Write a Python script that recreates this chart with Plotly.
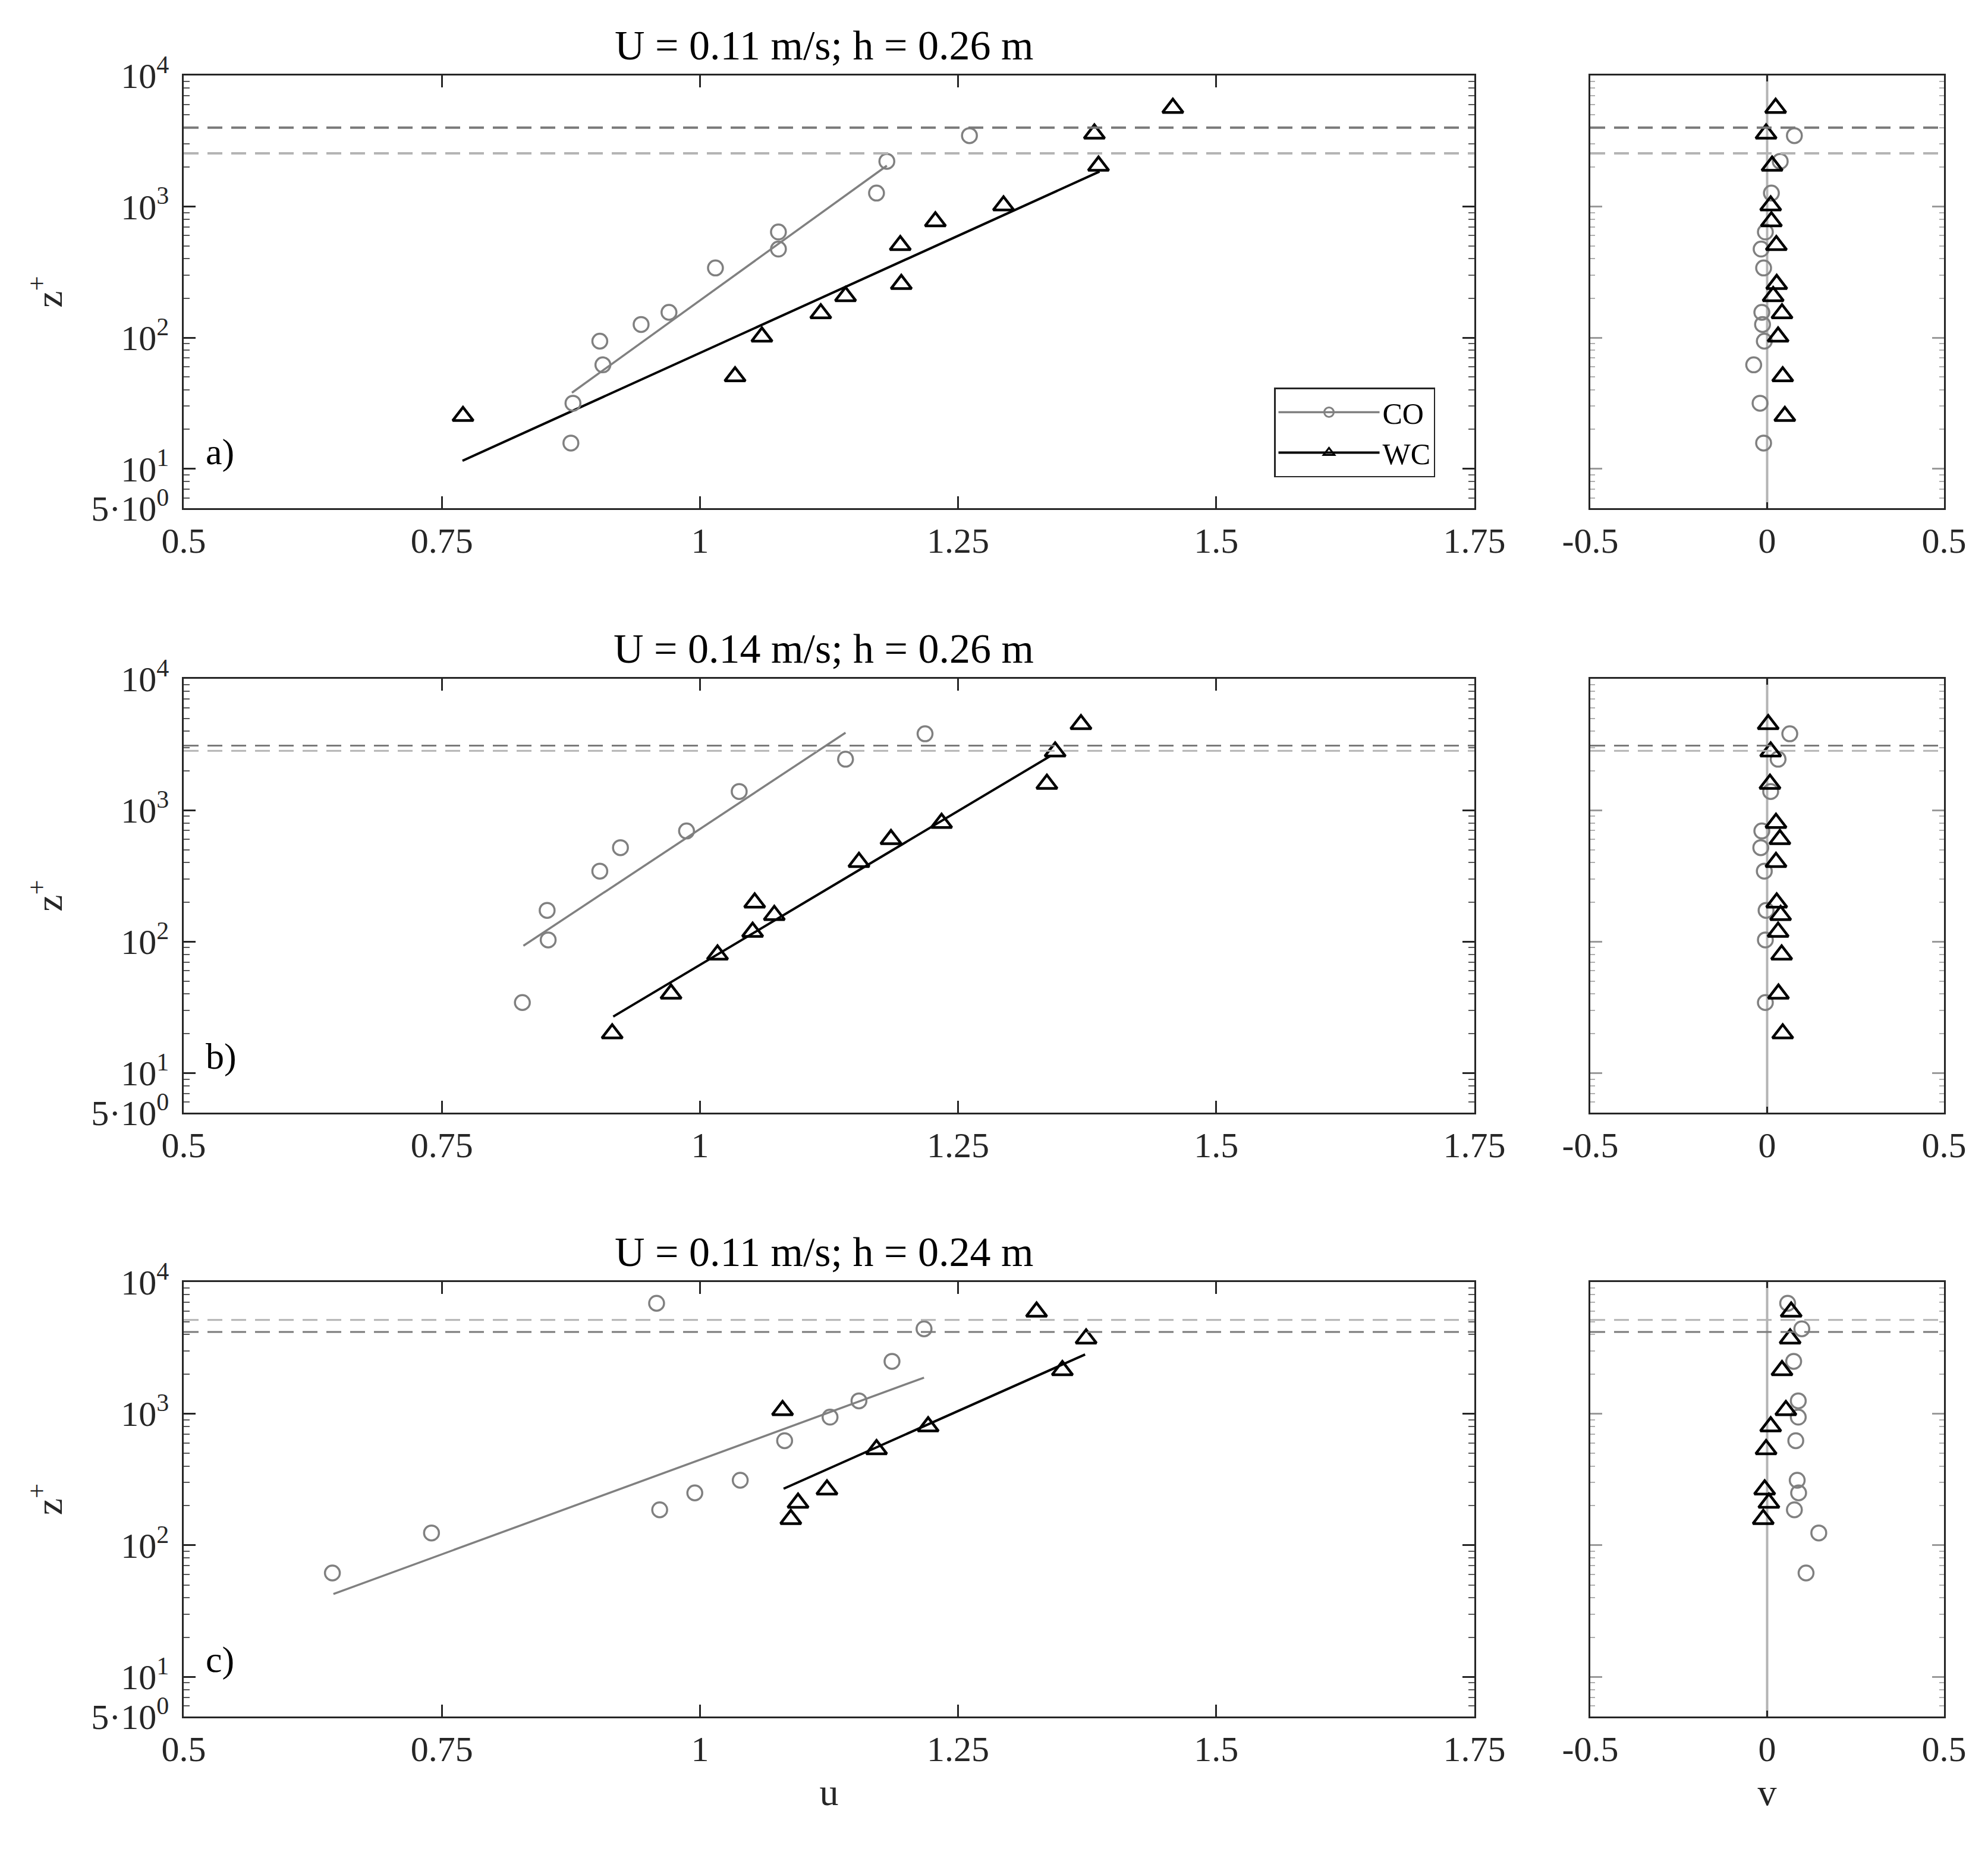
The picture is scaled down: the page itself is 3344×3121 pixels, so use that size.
import plotly.graph_objects as go

# text
titles = ["U = 0.11 m/s; h = 0.26 m", "U = 0.14 m/s; h = 0.26 m", "U = 0.11 m/s; h = 0.24 m"]
tags = ["a)", "b)", "c)"]

# panel a - CO (open circles) and WC (triangles)
a_co_z = [15.7, 31.6, 62, 94, 126, 156, 340, 474, 640, 1267, 2214, 3478]
a_co_u = [0.875, 0.877, 0.906, 0.903, 0.943, 0.970, 1.015, 1.076, 1.076, 1.171, 1.181, 1.261]
a_co_v = [-0.010, -0.020, -0.038, -0.008, -0.013, -0.015, -0.010, -0.017, -0.005, 0.012, 0.037, 0.077]
a_wc_z = [25.2, 50.6, 101.6, 153, 207, 256, 507, 770, 1018, 2044, 3594, 5650]
a_wc_u = [0.7705, 1.034, 1.060, 1.117, 1.141, 1.195, 1.194, 1.228, 1.294, 1.386, 1.382, 1.458]
a_wc_v = [0.050, 0.044, 0.031, 0.042, 0.017, 0.027, 0.026, 0.012, 0.010, 0.014, -0.003, 0.024]
a_co_fit_u = [0.876, 1.181]
a_co_fit_z = [38, 2050]
a_wc_fit_u = [0.770, 1.387]
a_wc_fit_z = [11.5, 1850]

# panel b
b_co_z = [34.4, 103, 173, 344, 519, 695, 1388, 2443, 3814]
b_co_u = [0.828, 0.853, 0.852, 0.903, 0.923, 0.987, 1.038, 1.141, 1.218]
b_co_v = [-0.005, -0.005, -0.003, -0.008, -0.018, -0.015, 0.010, 0.031, 0.064]
b_wc_z = [20, 40.1, 79.6, 118.6, 159, 198, 403, 601, 799, 1585, 2790, 4504]
b_wc_u = [0.915, 0.972, 1.017, 1.051, 1.072, 1.053, 1.154, 1.185, 1.234, 1.336, 1.344, 1.369]
b_wc_v = [0.044, 0.032, 0.041, 0.031, 0.038, 0.027, 0.025, 0.036, 0.025, 0.008, 0.010, 0.003]
b_co_fit_u = [0.829, 1.141]
b_co_fit_z = [93, 3890]
b_wc_fit_u = [0.916, 1.340]
b_wc_fit_z = [26.9, 2600]

# panel c
c_co_z = [61.6, 124, 186, 250, 312, 623, 941, 1251, 2497, 4411, 6898]
c_co_u = [0.644, 0.740, 0.961, 0.995, 1.039, 1.082, 1.126, 1.154, 1.186, 1.217, 0.958]
c_co_v = [0.110, 0.146, 0.077, 0.089, 0.085, 0.081, 0.088, 0.088, 0.075, 0.098, 0.058]
c_wc_z = [158, 210, 265, 536, 799, 1062, 2134, 3718, 5945]
c_wc_u = [1.088, 1.095, 1.123, 1.171, 1.221, 1.080, 1.351, 1.374, 1.326]
c_wc_v = [-0.011, 0.005, -0.007, -0.003, 0.010, 0.053, 0.042, 0.065, 0.068]
c_co_fit_u = [0.645, 1.217]
c_co_fit_z = [42.6, 1878]
c_wc_fit_u = [1.081, 1.373]
c_wc_fit_z = [269, 2817]

# dashed reference heights per panel
dash_dark_z = [4000, 3100, 4170]
dash_light_z = [2550, 2830, 5160]

# ticks
u_ticks = [0.5, 0.75, 1, 1.25, 1.5, 1.75]
u_ticktext = ["0.5", "0.75", "1", "1.25", "1.5", "1.75"]
v_ticks = [-0.5, 0, 0.5]
v_ticktext = ["-0.5", "0", "0.5"]
z_ticks = [5, 10, 100, 1000, 10000]
z_ticktext = ["5·10<sup>0</sup>", "10<sup>1</sup>", "10<sup>2</sup>", "10<sup>3</sup>", "10<sup>4</sup>"]

panels = [
    (a_co_z, a_co_u, a_co_v, a_wc_z, a_wc_u, a_wc_v, a_co_fit_u, a_co_fit_z, a_wc_fit_u, a_wc_fit_z),
    (b_co_z, b_co_u, b_co_v, b_wc_z, b_wc_u, b_wc_v, b_co_fit_u, b_co_fit_z, b_wc_fit_u, b_wc_fit_z),
    (c_co_z, c_co_u, c_co_v, c_wc_z, c_wc_u, c_wc_v, c_co_fit_u, c_co_fit_z, c_wc_fit_u, c_wc_fit_z),
]

W, H = 3344, 3121
FONT = "Liberation Serif"
AX = "#262626"
GRAY = "#808080"
LIGHT = "#b4b4b4"

# pixel boxes of the axes (x0, x1) and (top, bottom)
left_x = (301, 2472)
right_x = (2667, 3262)
rows_y = [(119, 847), (1134, 1864), (2149, 2880)]


def ax_id(n):
    # plotly names the first axis "x", not "x1"
    return "" if n == 1 else str(n)


def circ(name, x, y, xa, ya, legend=False):
    return go.Scatter(x=x, y=y, xaxis=xa, yaxis=ya, mode="markers", name=name, showlegend=legend,
                      marker=dict(symbol="circle-open", size=25, color=GRAY, line=dict(width=3.5, color=GRAY)))


def tri(name, x, y, xa, ya, legend=False):
    return go.Scatter(x=x, y=y, xaxis=xa, yaxis=ya, mode="markers", name=name, showlegend=legend,
                      marker=dict(symbol="triangle-up-open", size=30, color="black", line=dict(width=4.5, color="black")))


fig = go.Figure()
layout = {}
shapes = []

for i, p in enumerate(panels):
    co_z, co_u, co_v, wc_z, wc_u, wc_v, cfu, cfz, wfu, wfz = p
    sl, sr = ax_id(2 * i + 1), ax_id(2 * i + 2)
    xl, yl = "x" + sl, "y" + sl
    xr, yr = "x" + sr, "y" + sr

    # fit lines
    fig.add_trace(go.Scatter(x=cfu, y=cfz, xaxis=xl, yaxis=yl, mode="lines", showlegend=False,
                             line=dict(color=GRAY, width=3.5)))
    fig.add_trace(go.Scatter(x=wfu, y=wfz, xaxis=xl, yaxis=yl, mode="lines", showlegend=False,
                             line=dict(color="black", width=4)))
    fig.add_trace(circ("CO", co_u, co_z, xl, yl))
    fig.add_trace(tri("WC", wc_u, wc_z, xl, yl))
    fig.add_trace(circ("CO", co_v, co_z, xr, yr))
    fig.add_trace(tri("WC", wc_v, wc_z, xr, yr))

    top, bot = rows_y[i]
    ydom = [1 - bot / H, 1 - top / H]
    dw = 4 if i == 0 else 3
    for xa, ya in [(xl, yl), (xr, yr)]:
        shapes.append(dict(type="line", xref=f"{xa} domain", yref=ya, x0=0, x1=1,
                           y0=dash_dark_z[i], y1=dash_dark_z[i],
                           line=dict(color="#7a7a7a", width=dw, dash="25px,15px")))
        shapes.append(dict(type="line", xref=f"{xa} domain", yref=ya, x0=0, x1=1,
                           y0=dash_light_z[i], y1=dash_light_z[i],
                           line=dict(color=LIGHT, width=dw, dash="25px,15px")))
    # zero line of v
    shapes.append(dict(type="line", xref=xr, yref=f"{yr} domain", x0=0, x1=0, y0=0, y1=1,
                       line=dict(color=LIGHT, width=4), layer="below"))

    common = dict(showline=True, linecolor=AX, linewidth=2.5, mirror="ticks", ticks="inside",
                  tickcolor=AX, tickwidth=2.5, showgrid=False, zeroline=False, automargin=False,
                  tickfont=dict(family=FONT, size=60, color=AX))
    ycommon = dict(common, type="log", range=[0.69897, 4], tickmode="array", tickvals=z_ticks,
                   ticklen=20, domain=ydom,
                   minor=dict(dtick="D1", ticks="inside", ticklen=10, tickwidth=2, tickcolor="#5a5a5a"))

    layout["xaxis" + sl] = dict(common, domain=[left_x[0] / W, left_x[1] / W], range=[0.5, 1.75],
                                tickmode="array", tickvals=u_ticks, ticktext=u_ticktext, ticklen=20,
                                anchor=yl, ticklabelstandoff=0)
    layout["xaxis" + sr] = dict(common, domain=[right_x[0] / W, right_x[1] / W], range=[-0.5, 0.5],
                                tickmode="array", tickvals=v_ticks, ticktext=v_ticktext, ticklen=10,
                                anchor=yr, ticklabelstandoff=0)
    layout["yaxis" + sl] = dict(ycommon, anchor=xl, ticktext=z_ticktext, ticklabelstandoff=10,
                                title=dict(text="z<sup>+</sup>", font=dict(family=FONT, size=64, color=AX),
                                           standoff=28))
    layout["yaxis" + sr] = dict(ycommon, anchor=xr, showticklabels=False, tickcolor="#9a9a9a",
                                minor=dict(dtick="D1", ticks="inside", ticklen=8, tickwidth=2,
                                           tickcolor="#b0b0b0"))

# bottom axis titles
layout["xaxis5"]["title"] = dict(text="u", font=dict(family=FONT, size=64, color=AX), standoff=18)
layout["xaxis6"]["title"] = dict(text="v", font=dict(family=FONT, size=64, color=AX), standoff=18)

# legend-only entries
fig.add_trace(go.Scatter(x=[None], y=[None], mode="lines+markers", name="CO",
                         line=dict(color=GRAY, width=3.5),
                         marker=dict(symbol="circle-open", size=16, color=GRAY, line=dict(width=3, color=GRAY))))
fig.add_trace(go.Scatter(x=[None], y=[None], mode="lines+markers", name="WC",
                         line=dict(color="black", width=4),
                         marker=dict(symbol="triangle-up-open", size=16, color="black", line=dict(width=3, color="black"))))

annotations = []
for i in range(3):
    s = ax_id(2 * i + 1)
    annotations.append(dict(text=titles[i], xref=f"x{s} domain", yref=f"y{s} domain", x=0.496, y=1,
                            xanchor="center", yanchor="bottom", yshift=10, showarrow=False,
                            font=dict(family=FONT, size=70, color="black")))
    annotations.append(dict(text=tags[i], xref=f"x{s} domain", yref=f"y{s} domain", x=0.016, y=0.13,
                            xanchor="left", yanchor="middle", showarrow=False,
                            font=dict(family=FONT, size=62, color="black")))

fig.update_layout(
    width=W, height=H,
    margin=dict(l=0, r=0, t=0, b=0, autoexpand=False),
    paper_bgcolor="white", plot_bgcolor="white",
    font=dict(family=FONT, color=AX),
    annotations=annotations,
    shapes=shapes,
    legend=dict(x=2135 / W, y=1 - 644 / H, xanchor="left", yanchor="top",
                bgcolor="white", bordercolor=AX, borderwidth=2.5,
                font=dict(family=FONT, size=50, color="black"), itemwidth=170, tracegroupgap=0),
    **layout,
)

fig.write_html("out.html", config={"displayModeBar": False})
